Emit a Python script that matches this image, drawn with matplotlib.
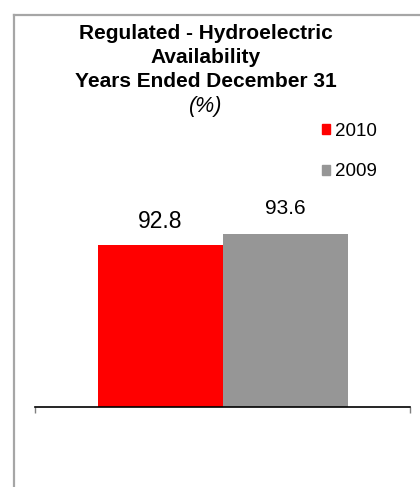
import matplotlib
matplotlib.use("Agg")
import matplotlib.pyplot as plt
from matplotlib.lines import Line2D
from matplotlib.patches import Patch

plt.rcParams['font.family'] = ['Liberation Sans', 'DejaVu Sans']

years = ['2010', '2009']
availability = [92.8, 93.6]
colors = ['#ff0000', '#969696']
title_lines = ['Regulated - Hydroelectric', 'Availability', 'Years Ended December 31']

fig = plt.figure(figsize=(4.2, 4.87), dpi=100)

# chart border (left and top edges only)
fig.add_artist(Line2D([14 / 420, 14 / 420], [0, 1 - 15 / 487], transform=fig.transFigure,
                      color='#a6a6a6', lw=1.6))
fig.add_artist(Line2D([14 / 420, 1], [1 - 15 / 487, 1 - 15 / 487], transform=fig.transFigure,
                      color='#a6a6a6', lw=1.6))

ax = fig.add_axes([35 / 420, 1 - 407 / 487, 375 / 420, 250 / 487])
width = 0.5
offsets = [-width / 2, width / 2]
bars = []
for off, val, c in zip(offsets, availability, colors):
    bars.append(ax.bar(off, val, width=width, color=c)[0])

# value labels above the bars
label_sizes = [16.5, 15]
label_pads = [8, 12]
for b, val, fs, pad in zip(bars, availability, label_sizes, label_pads):
    ax.annotate(f'{val:.1f}', (b.get_x() + b.get_width() / 2, val),
                xytext=(0, pad), textcoords='offset points',
                ha='center', va='bottom', fontsize=fs)

ax.set_xlim(-0.75, 0.75)
ax.set_ylim(80, 99.7)
for s in ['top', 'right', 'left']:
    ax.spines[s].set_visible(False)
ax.spines['bottom'].set_linewidth(1.2)
ax.set_yticks([])
ax.set_xticks([-0.75, 0.75])
ax.set_xticklabels(['', ''])
ax.tick_params(axis='x', direction='out', length=4, width=1, color='#808080')

for i, line in enumerate(title_lines):
    fig.text(0.49, 1 - (39 + 24 * i) / 487, line, ha='center', va='baseline',
             fontsize=15, fontweight='bold')
fig.text(0.49, 1 - 112 / 487, '(%)', ha='center', va='baseline', fontsize=15.5, style='italic')

handles = [Patch(color=c) for c in colors]
fig.legend(handles, years, loc='upper left', bbox_to_anchor=(322 / 420, 1 - 123 / 487),
           frameon=False, fontsize=13.5, handlelength=0.45, handleheight=0.45,
           handletextpad=0.25, labelspacing=1.25, borderpad=0, borderaxespad=0)

fig.savefig('out.png', dpi=100)
